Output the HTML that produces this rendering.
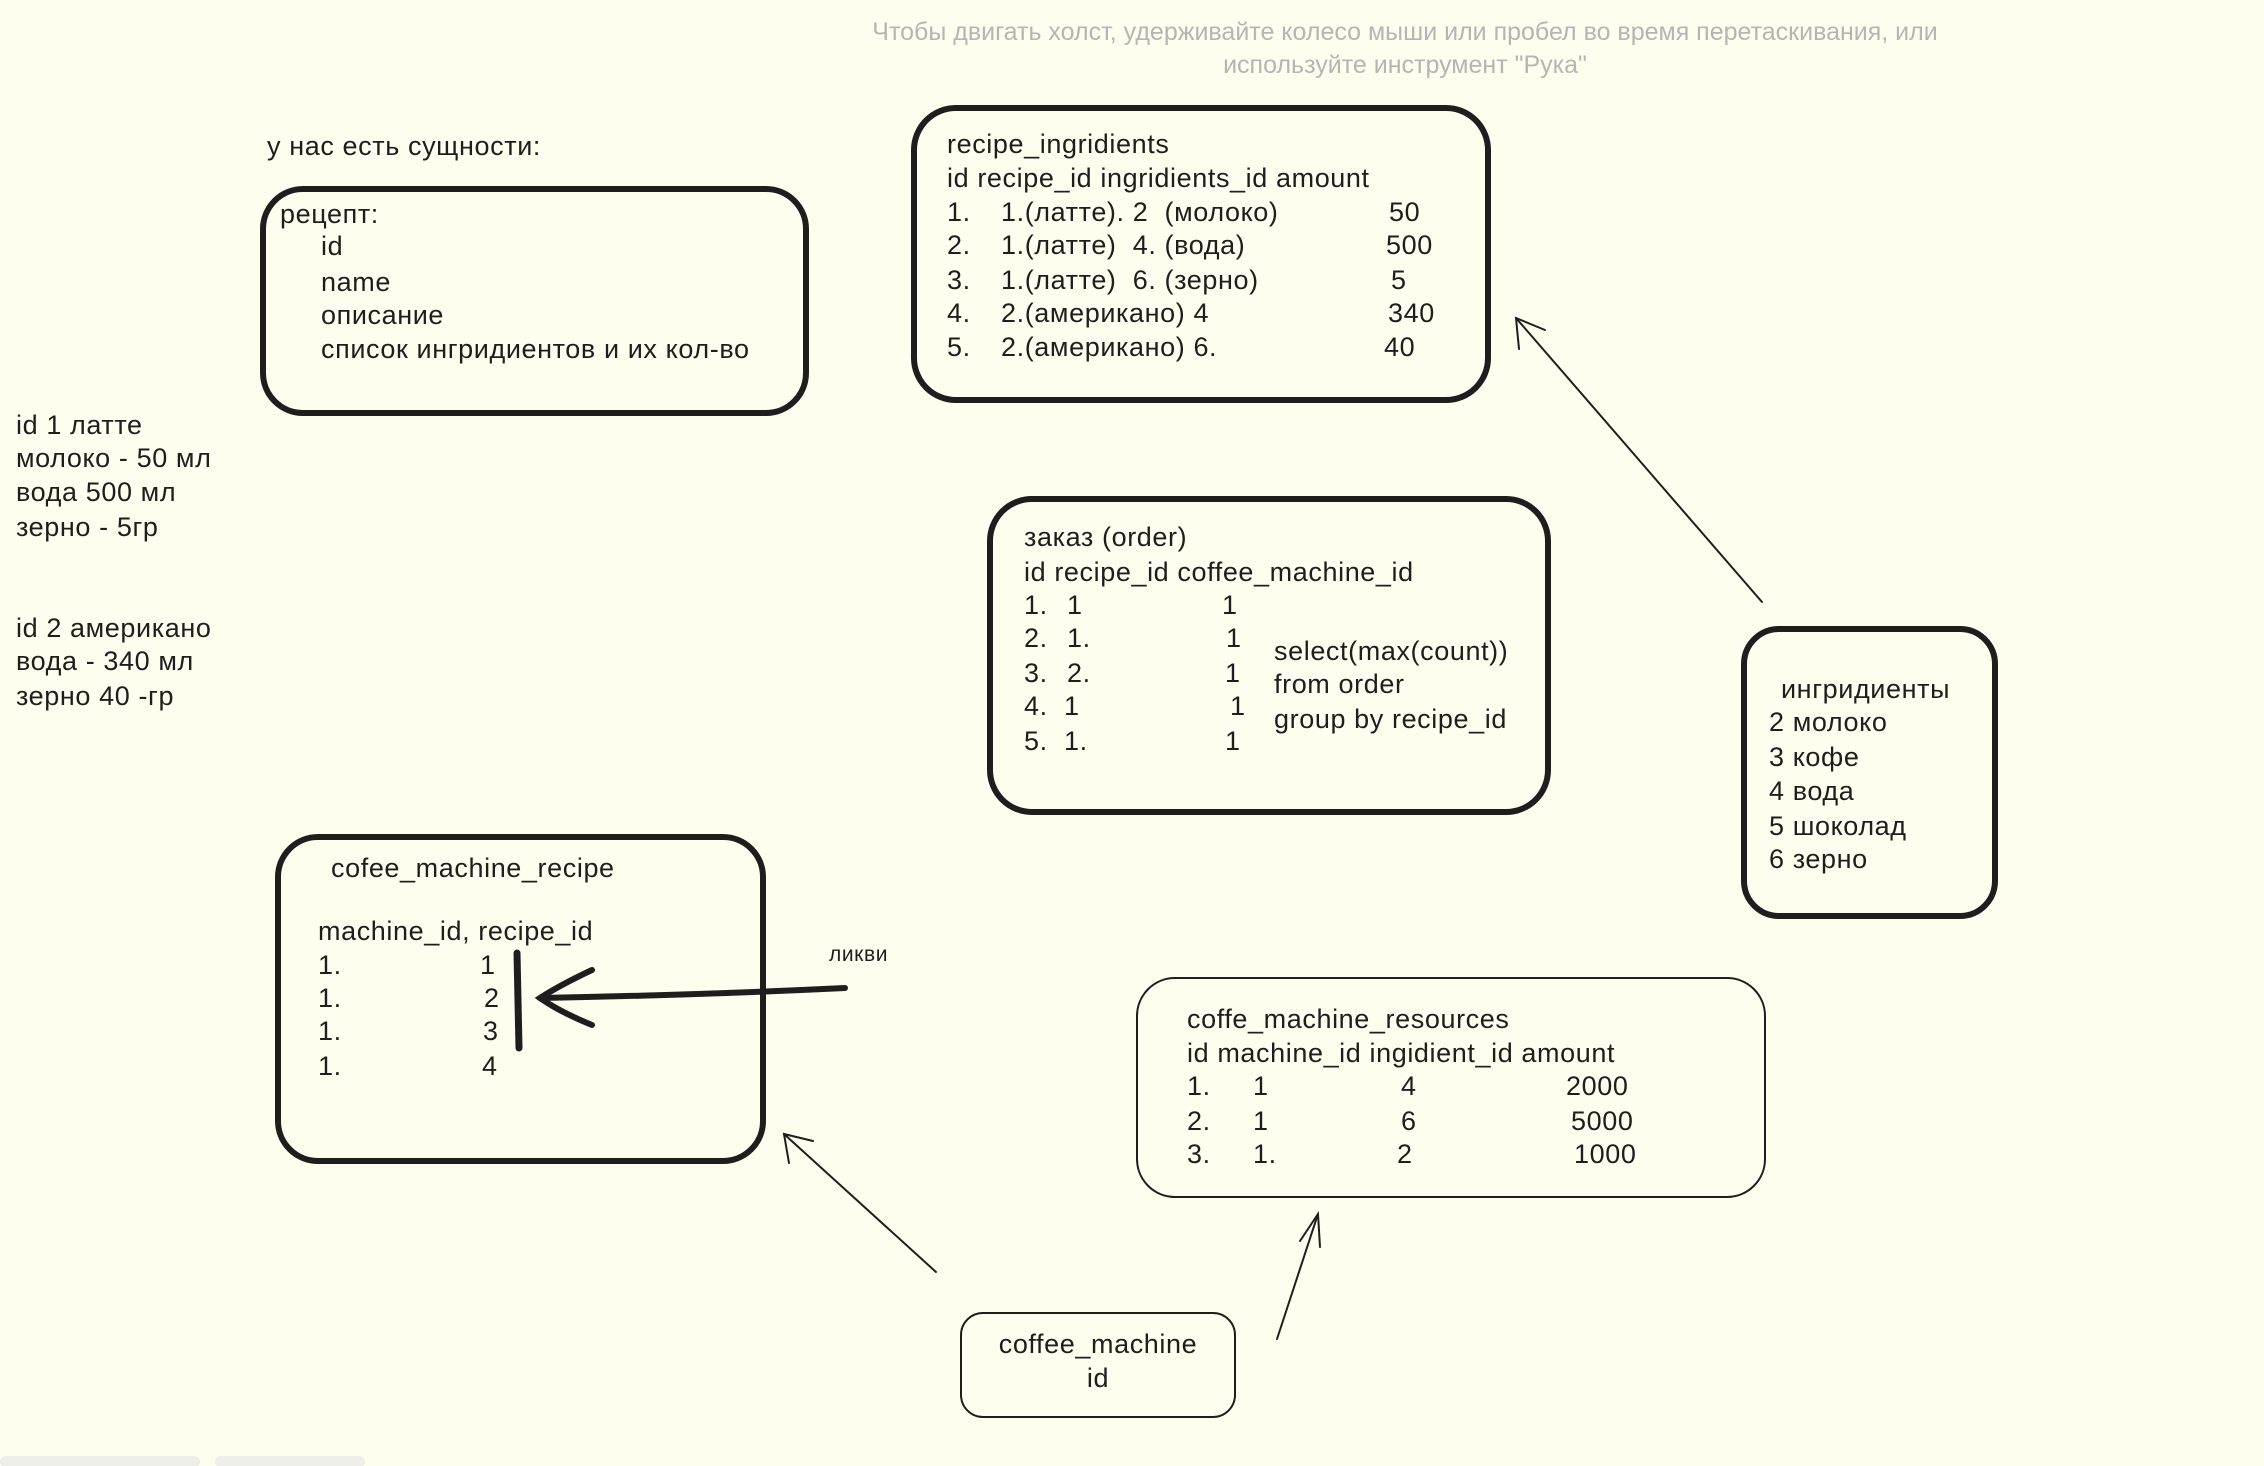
<!DOCTYPE html>
<html><head><meta charset="utf-8"><style>
html,body{margin:0;padding:0;width:2264px;height:1466px;overflow:hidden;background:#fffdee;}
.t{position:absolute;font-family:"Liberation Sans","Noto Sans CJK SC",sans-serif;font-size:27px;letter-spacing:0.6px;line-height:30px;color:#1e1e1e;white-space:pre;}
.h{position:absolute;font-family:"Liberation Sans",sans-serif;font-size:25px;color:#b5b5b5;text-align:center;width:1200px;left:805px;line-height:33px;}
svg{position:absolute;left:0;top:0}
</style></head><body>
<svg width="2264" height="1466">
<g fill="none" stroke="#1e1e1e" stroke-linecap="round">
<rect x="263" y="189" width="543" height="224" rx="40" stroke-width="6"/>
<rect x="914" y="108" width="574" height="292" rx="42" stroke-width="6"/>
<rect x="990" y="499" width="558" height="313" rx="42" stroke-width="6"/>
<rect x="1744" y="629" width="251" height="287" rx="35" stroke-width="6"/>
<rect x="278" y="837" width="485" height="324" rx="40" stroke-width="6"/>
<rect x="1137" y="978" width="628" height="219" rx="38" stroke-width="2"/>
<rect x="961" y="1313" width="274" height="104" rx="22" stroke-width="2"/>
<line x1="517" y1="953" x2="519" y2="1048" stroke-width="7"/>
<path d="M845 988 Q700 995 540 998" stroke-width="6"/>
<path d="M592 970 Q560 985 540 998 Q560 1012 592 1025" stroke-width="6"/>
<line x1="1762" y1="602" x2="1516" y2="318" stroke-width="2"/>
<path d="M1519 349 L1516 318 L1545 330" stroke-width="2"/>
<line x1="936" y1="1272" x2="784" y2="1134" stroke-width="2"/>
<path d="M789 1163 L784 1134 L813 1141" stroke-width="2"/>
<line x1="1277" y1="1339" x2="1318" y2="1214" stroke-width="2"/>
<path d="M1300 1241 L1318 1214 L1320 1247" stroke-width="2"/>
</g>
<rect x="0" y="1456" width="200" height="12" rx="6" fill="#eeeeea"/>
<rect x="215" y="1456" width="150" height="12" rx="6" fill="#eeeeea"/>
</svg>
<div class="h" style="top:16px">Чтобы двигать холст, удерживайте колесо мыши или пробел во время перетаскивания, или<br>используйте инструмент "Рука"</div>

<div class="t" style="left:267px;top:131px">у нас есть сущности:</div>
<div class="t" style="left:280px;top:199px">рецепт:</div>
<div class="t" style="left:321px;top:231px">id</div>
<div class="t" style="left:321px;top:267px">name</div>
<div class="t" style="left:321px;top:300px">описание</div>
<div class="t" style="left:321px;top:334px">список ингридиентов и их кол-во</div>

<div class="t" style="left:16px;top:410px">id 1 латте</div>
<div class="t" style="left:16px;top:443px">молоко - 50 мл</div>
<div class="t" style="left:16px;top:477px">вода 500 мл</div>
<div class="t" style="left:16px;top:512px">зерно - 5гр</div>
<div class="t" style="left:16px;top:613px">id 2 американо</div>
<div class="t" style="left:16px;top:646px">вода - 340 мл</div>
<div class="t" style="left:16px;top:681px">зерно 40 -гр</div>

<div class="t" style="left:947px;top:129px">recipe_ingridients</div>
<div class="t" style="left:947px;top:163px">id recipe_id ingridients_id amount</div>
<div class="t" style="left:947px;top:197px">1.</div><div class="t" style="left:1001px;top:197px">1.(латте). 2  (молоко)</div><div class="t" style="left:1389px;top:197px">50</div>
<div class="t" style="left:947px;top:230px">2.</div><div class="t" style="left:1001px;top:230px">1.(латте)  4. (вода)</div><div class="t" style="left:1386px;top:230px">500</div>
<div class="t" style="left:947px;top:265px">3.</div><div class="t" style="left:1001px;top:265px">1.(латте)  6. (зерно)</div><div class="t" style="left:1391px;top:265px">5</div>
<div class="t" style="left:947px;top:298px">4.</div><div class="t" style="left:1001px;top:298px">2.(американо) 4</div><div class="t" style="left:1388px;top:298px">340</div>
<div class="t" style="left:947px;top:332px">5.</div><div class="t" style="left:1001px;top:332px">2.(американо) 6.</div><div class="t" style="left:1384px;top:332px">40</div>

<div class="t" style="left:1024px;top:522px">заказ (order)</div>
<div class="t" style="left:1024px;top:557px">id recipe_id coffee_machine_id</div>
<div class="t" style="left:1024px;top:590px">1.</div><div class="t" style="left:1067px;top:590px">1</div><div class="t" style="left:1222px;top:590px">1</div>
<div class="t" style="left:1024px;top:623px">2.</div><div class="t" style="left:1067px;top:623px">1.</div><div class="t" style="left:1226px;top:623px">1</div>
<div class="t" style="left:1024px;top:658px">3.</div><div class="t" style="left:1067px;top:658px">2.</div><div class="t" style="left:1225px;top:658px">1</div>
<div class="t" style="left:1024px;top:691px">4.</div><div class="t" style="left:1064px;top:691px">1</div><div class="t" style="left:1230px;top:691px">1</div>
<div class="t" style="left:1024px;top:726px">5.</div><div class="t" style="left:1064px;top:726px">1.</div><div class="t" style="left:1225px;top:726px">1</div>
<div class="t" style="left:1274px;top:636px">select(max(count))</div>
<div class="t" style="left:1274px;top:669px">from order</div>
<div class="t" style="left:1274px;top:704px">group by recipe_id</div>

<div class="t" style="left:1781px;top:674px">ингридиенты</div>
<div class="t" style="left:1769px;top:707px">2 молоко</div>
<div class="t" style="left:1769px;top:742px">3 кофе</div>
<div class="t" style="left:1769px;top:776px">4 вода</div>
<div class="t" style="left:1769px;top:811px">5 шоколад</div>
<div class="t" style="left:1769px;top:844px">6 зерно</div>

<div class="t" style="left:331px;top:853px">cofee_machine_recipe</div>
<div class="t" style="left:318px;top:916px">machine_id, recipe_id</div>
<div class="t" style="left:318px;top:950px">1.</div><div class="t" style="left:480px;top:950px">1</div>
<div class="t" style="left:318px;top:983px">1.</div><div class="t" style="left:484px;top:983px">2</div>
<div class="t" style="left:318px;top:1016px">1.</div><div class="t" style="left:483px;top:1016px">3</div>
<div class="t" style="left:318px;top:1051px">1.</div><div class="t" style="left:482px;top:1051px">4</div>
<div class="t" style="left:829px;top:940px;font-size:21px">ликви</div>

<div class="t" style="left:1187px;top:1004px">coffe_machine_resources</div>
<div class="t" style="left:1187px;top:1038px">id machine_id ingidient_id amount</div>
<div class="t" style="left:1187px;top:1071px">1.</div><div class="t" style="left:1253px;top:1071px">1</div><div class="t" style="left:1401px;top:1071px">4</div><div class="t" style="left:1566px;top:1071px">2000</div>
<div class="t" style="left:1187px;top:1106px">2.</div><div class="t" style="left:1253px;top:1106px">1</div><div class="t" style="left:1401px;top:1106px">6</div><div class="t" style="left:1571px;top:1106px">5000</div>
<div class="t" style="left:1187px;top:1139px">3.</div><div class="t" style="left:1253px;top:1139px">1.</div><div class="t" style="left:1397px;top:1139px">2</div><div class="t" style="left:1574px;top:1139px">1000</div>

<div class="t" style="left:961px;top:1329px;width:274px;text-align:center">coffee_machine</div>
<div class="t" style="left:961px;top:1363px;width:274px;text-align:center">id</div>
</body></html>
